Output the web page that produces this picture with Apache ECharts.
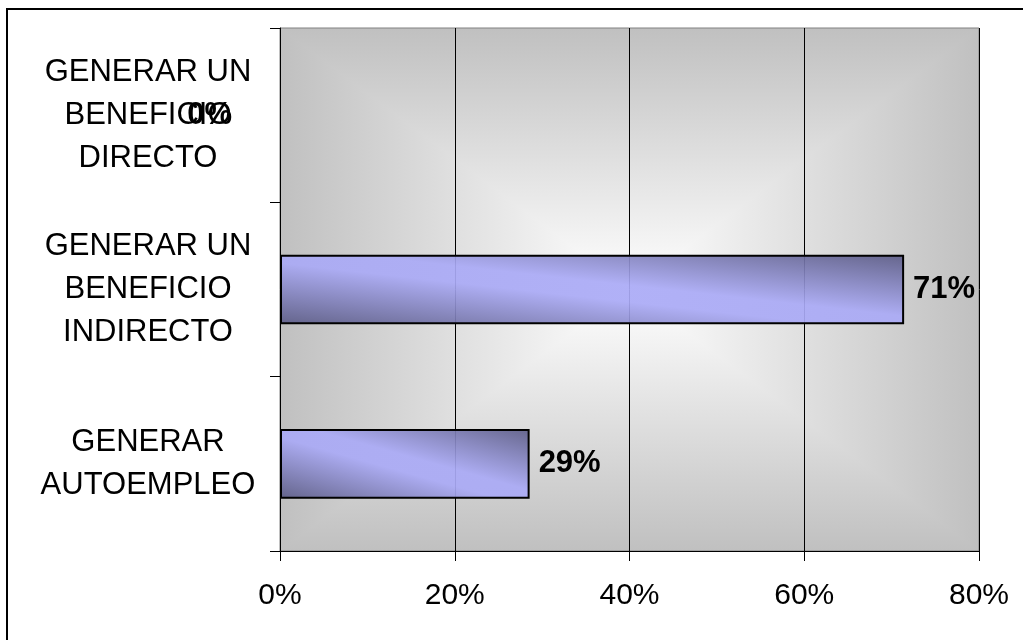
<!DOCTYPE html>
<html>
<head>
<meta charset="utf-8">
<script src="https://cdn.jsdelivr.net/npm/echarts@6/dist/echarts.min.js"></script>
<style>
  html, body { margin: 0; padding: 0; background: #fff; overflow: hidden; }
  #frame { position: absolute; left: 6px; top: 8px; width: 1100px; height: 700px; border: 2px solid #000; box-sizing: border-box; }
  #chart { position: absolute; left: 0; top: 0; width: 1023px; height: 640px; }
</style>
</head>
<body>
<div id="frame"></div>
<div id="chart"></div>
<script>
// Categories, listed top to bottom
var categories = [
  'GENERAR UN\nBENEFICIO\nDIRECTO',
  'GENERAR UN\nBENEFICIO\nINDIRECTO',
  'GENERAR\nAUTOEMPLEO'
];
// Share of responses (%)
var shares = [0, 71.43, 28.57];
// Value axis ticks (%)
var axisMin = 0, axisMax = 80, axisStep = 20;

var FONT = "'Liberation Sans', Arial, sans-serif";
var plot = { left: 280, top: 28, right: 44, bottom: 89 };
var W = 1023, H = 640;
var pw = W - plot.left - plot.right;
var ph = H - plot.top - plot.bottom;
var barFrac = 0.4;

// Bar fill: dark corners, light band along the bar's diagonal
function barFill(v) {
  var w = v / (axisMax - axisMin) * pw;
  var h = ph / categories.length * barFrac;
  var d = h * h + w * w;
  var a = h * h / d, b = w * w / d;
  return new echarts.graphic.LinearGradient(0.5 - a, 0.5 + b, 0.5 + a, 0.5 - b, [
    { offset: 0, color: 'rgba(92,92,134,0.92)' },
    { offset: 0.44, color: 'rgba(170,170,246,0.92)' },
    { offset: 0.56, color: 'rgba(170,170,246,0.92)' },
    { offset: 1, color: 'rgba(92,92,134,0.92)' }
  ]);
}

var barData = shares.map(function (v) {
  var item = { value: v, itemStyle: { color: v > 0 ? barFill(v) : 'transparent' } };
  if (v === 0) {
    item.itemStyle.borderWidth = 0;
    item.label = { position: 'left', distance: 48 };
  }
  return item;
});

// Plot-area backdrop: rectangular fade from grey edges to a white centre.
// A left-right fade fills the whole area; top and bottom wedges fade vertically.
var x0 = plot.left, y0 = plot.top, x1 = plot.left + pw, y1 = plot.top + ph;
var cx = (x0 + x1) / 2, cy = (y0 + y1) / 2;
var EDGE = '#c0c0c0', MID = '#ffffff';
function fade(gx, gy, gx2, gy2) {
  return new echarts.graphic.LinearGradient(gx, gy, gx2, gy2, [
    { offset: 0, color: EDGE }, { offset: 1, color: MID }]);
}
var backdrop = [
  {
    type: 'rect', z: -10, silent: true,
    shape: { x: x0, y: y0, width: pw, height: ph },
    style: { fill: new echarts.graphic.LinearGradient(0, 0, 1, 0, [
      { offset: 0, color: EDGE }, { offset: 0.5, color: MID }, { offset: 1, color: EDGE }]) }
  },
  { type: 'polygon', z: -9, silent: true, shape: { points: [[x0, y0], [x1, y0], [cx, cy]] }, style: { fill: fade(0, 0, 0, 1) } },
  { type: 'polygon', z: -9, silent: true, shape: { points: [[x0, y1], [x1, y1], [cx, cy]] }, style: { fill: fade(0, 1, 0, 0) } }
];

var chart = echarts.init(document.getElementById('chart'), null, { renderer: 'canvas' });
chart.setOption({
  animation: false,
  backgroundColor: 'transparent',
  textStyle: { fontFamily: FONT },
  graphic: { elements: backdrop },
  grid: {
    left: plot.left, right: plot.right, top: plot.top, bottom: plot.bottom,
    show: true, borderColor: '#808080', borderWidth: 1, backgroundColor: 'transparent'
  },
  xAxis: {
    type: 'value', min: axisMin, max: axisMax, interval: axisStep,
    axisLine: { show: true, lineStyle: { color: '#000', width: 1 } },
    axisTick: { show: true, length: 10, lineStyle: { color: '#000' } },
    axisLabel: { formatter: '{value}%', color: '#000', fontSize: 30, fontFamily: FONT, margin: 30 },
    splitLine: { show: true, lineStyle: { color: '#000', width: 1 } }
  },
  yAxis: {
    type: 'category', data: categories, inverse: true,
    axisLine: { show: true, lineStyle: { color: '#000', width: 1 } },
    axisTick: { show: true, length: 10, lineStyle: { color: '#000' } },
    axisLabel: { color: '#000', fontSize: 31, fontFamily: FONT, lineHeight: 43, align: 'center', margin: 132 }
  },
  series: [{
    type: 'bar',
    data: barData,
    barWidth: (barFrac * 100) + '%',
    itemStyle: { borderColor: '#000', borderWidth: 2 },
    label: {
      show: true, position: 'right', distance: 9,
      color: '#000', fontSize: 31, fontWeight: 'bold', fontFamily: FONT,
      formatter: function (p) { return Math.round(p.value) + '%'; }
    }
  }]
});
</script>
</body>
</html>
